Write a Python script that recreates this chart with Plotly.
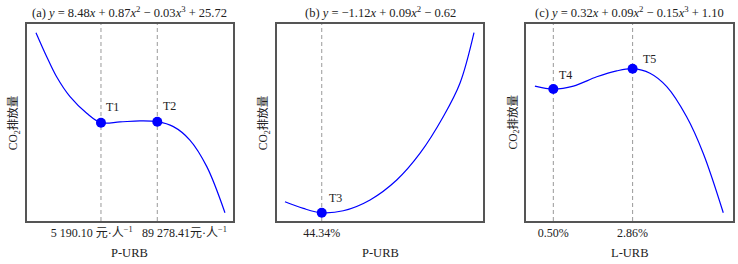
import plotly.graph_objects as go

# Curve samples (relative units 0-100 within each panel)
a_x = [4.5, 9.7, 14.5, 21.0, 29.1, 36.0, 45.2, 54.9, 63.3, 71.1, 79.1, 87.3, 96.1]
a_y = [95.6, 83.4, 73.2, 63.1, 54.7, 49.9, 50.3, 50.8, 50.4, 47.9, 41.1, 27.6, 4.2]
b_x = [4.0, 12.9, 21.8, 32.2, 45.2, 58.1, 69.4, 80.6, 88.7, 95.5]
b_y = [9.8, 6.4, 4.2, 5.2, 10.7, 20.8, 34.4, 52.9, 69.9, 95.6]
c_x = [4.3, 13.2, 22.9, 34.2, 43.8, 51.5, 59.9, 68.0, 77.6, 85.6, 95.3]
c_y = [68.5, 67.0, 68.5, 73.2, 76.2, 77.3, 75.0, 68.2, 52.9, 34.4, 4.2]

# Turning points
a_px, a_py, a_pl = [36.0, 63.3], [49.9, 50.4], ["T1", "T2"]
b_px, b_py, b_pl = [21.8], [4.2], ["T3"]
c_px, c_py, c_pl = [13.2, 51.5], [67.0, 77.3], ["T4", "T5"]

# Tick labels
a_ticks = ["5 190.10 元·人<sup>−1</sup>", "89 278.41元·人<sup>−1</sup>"]
b_ticks = ["44.34%"]
c_ticks = ["0.50%", "2.86%"]

titles = [
    "(a) <i>y</i> = 8.48<i>x</i> + 0.87<i>x</i><sup>2</sup> − 0.03<i>x</i><sup>3</sup> + 25.72",
    "(b) <i>y</i> = −1.12<i>x</i> + 0.09<i>x</i><sup>2</sup> − 0.62",
    "(c) <i>y</i> = 0.32<i>x</i> + 0.09<i>x</i><sup>2</sup> − 0.15<i>x</i><sup>3</sup> + 1.10",
]
xtitles = ["P-URB", "P-URB", "L-URB"]
ytitle = "CO<sub>2</sub>排放量"

W, H = 738, 264
doms = [(26.7 / W, 233 / W), (276.7 / W, 483.3 / W), (526 / W, 733 / W)]
ydom = (1 - 221 / H, 1 - 24 / H)

FONT = "Liberation Serif, Times New Roman, Noto Sans CJK SC, serif"
BLUE = "#0000ff"

# label positions (layout): panel (a) labels are offset from the dashed lines in the reference
tick_pos = [[31.5, 76.5], b_px, c_px]

fig = go.Figure()
panels = [
    (a_x, a_y, a_px, a_py, a_pl, a_ticks, [(12, -16), (12, -16)]),
    (b_x, b_y, b_px, b_py, b_pl, b_ticks, [(14, -15)]),
    (c_x, c_y, c_px, c_py, c_pl, c_ticks, [(12, -14), (17, -10)]),
]
annotations = []
shapes = []
for i, (cx, cy, px, py, pl, tt, offs) in enumerate(panels):
    n = "" if i == 0 else str(i + 1)
    xa, ya = "x" + n, "y" + n
    fig.add_trace(go.Scatter(x=cx, y=cy, mode="lines", line=dict(color=BLUE, width=1.2, shape="spline", smoothing=1.0),
                             xaxis=xa, yaxis=ya, showlegend=False, hoverinfo="skip"))
    for xv in px:
        shapes.append(dict(type="line", xref=xa, yref="y" + n + " domain", x0=xv, x1=xv, y0=0, y1=1,
                           line=dict(color="#999999", width=1, dash="4px,3px"), layer="below"))
    fig.add_trace(go.Scatter(x=px, y=py, mode="markers", marker=dict(color=BLUE, size=10),
                             xaxis=xa, yaxis=ya, showlegend=False))
    for xv, yv, lab, (dx, dy) in zip(px, py, pl, offs):
        annotations.append(dict(x=xv, y=yv, xref=xa, yref=ya, text=lab, showarrow=False,
                                xanchor="center", yanchor="middle",
                                xshift=dx, yshift=-dy, font=dict(family=FONT, size=12, color="#222")))
    axis_common = dict(showgrid=False, zeroline=False, mirror=True, showline=True, automargin=False,
                       linecolor="#555555", linewidth=1.5, range=[0, 100])
    fig.update_layout(**{
        "xaxis" + n: dict(domain=list(doms[i]), anchor=ya, tickvals=tick_pos[i], ticktext=tt, ticks="",
                          tickangle=0, ticklabelstandoff=0,
                          tickfont=dict(family=FONT, size=12, color="#222"), **axis_common),
        "yaxis" + n: dict(domain=list(ydom), anchor=xa, showticklabels=False, ticks="", **axis_common),
    })
    cx_mid = (doms[i][0] + doms[i][1]) / 2
    annotations.append(dict(x=cx_mid, y=1 - 12 / H, xref="paper", yref="paper", text=titles[i],
                            xanchor="center", yanchor="middle",
                            showarrow=False, font=dict(family=FONT, size=12.5, color="#222")))
    annotations.append(dict(x=cx_mid, y=1 - 253 / H, xref="paper", yref="paper", text=xtitles[i],
                            xanchor="center", yanchor="middle",
                            showarrow=False, font=dict(family=FONT, size=12.5, color="#222")))
    annotations.append(dict(x=doms[i][0] - 13 / W, y=(ydom[0] + ydom[1]) / 2, xref="paper", yref="paper",
                            text=ytitle, textangle=-90, showarrow=False,
                            xanchor="center", yanchor="middle",
                            font=dict(family=FONT, size=11.5, color="#222")))

fig.update_layout(width=W, height=H, margin=dict(l=0, r=0, t=0, b=0),
                  paper_bgcolor="white", plot_bgcolor="white",
                  annotations=annotations, shapes=shapes)
fig.write_html("out.html")
